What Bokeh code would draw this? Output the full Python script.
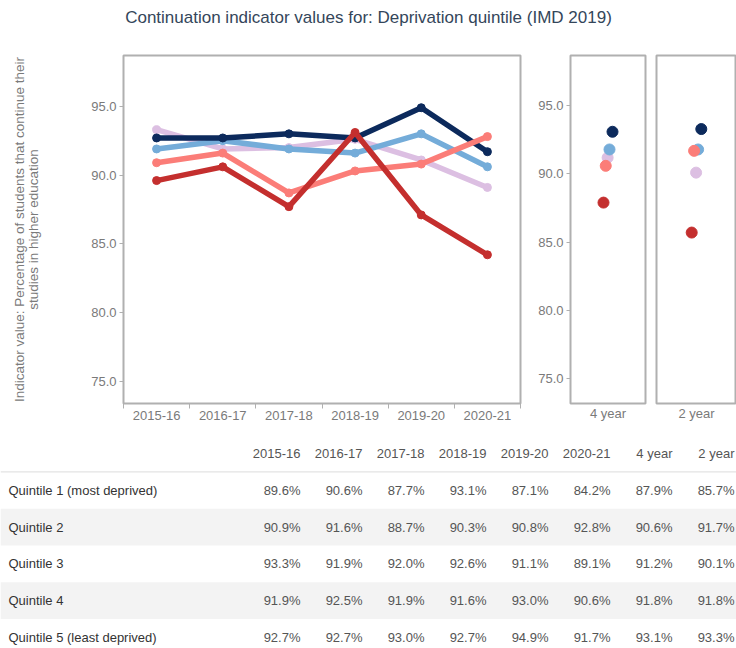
from bokeh.plotting import figure
from bokeh.layouts import column, row
from bokeh.models import (Range1d, FixedTicker, NumeralTickFormatter, FactorRange,
                          ColumnDataSource, Span)
from bokeh.transform import dodge
from bokeh.core.properties import value
from bokeh.embed import file_html
from bokeh.resources import INLINE

# ---------------- data ----------------
years = ["2015-16", "2016-17", "2017-18", "2018-19", "2019-20", "2020-21"]
quintiles = ["Quintile 1 (most deprived)", "Quintile 2", "Quintile 3",
             "Quintile 4", "Quintile 5 (least deprived)"]
q1 = [89.6, 90.6, 87.7, 93.1, 87.1, 84.2]
q2 = [90.9, 91.6, 88.7, 90.3, 90.8, 92.8]
q3 = [93.3, 91.9, 92.0, 92.6, 91.1, 89.1]
q4 = [91.9, 92.5, 91.9, 91.6, 93.0, 90.6]
q5 = [92.7, 92.7, 93.0, 92.7, 94.9, 91.7]
avg_4year = [87.9, 90.6, 91.2, 91.8, 93.1]
avg_2year = [85.7, 91.7, 90.1, 91.8, 93.3]
y_ticks = [75, 80, 85, 90, 95]

series = [q1, q2, q3, q4, q5]
colors = ["#c42f2e", "#fb7d78", "#dcbfe2", "#74acd9", "#0c2a5c"]
draw_order = [2, 3, 4, 1, 0]          # lilac, blue, navy, salmon, red (top)
dodges = [-0.06, -0.03, -0.005, 0.02, 0.06]

FONT = "Liberation Sans"
GREY = "#7a7a7a"
FRAME = "#b0b0b0"
FS = "13px"
PAGE_W, PAGE_H = 736, 648
TITLE_H = 44
ROW_H = 388

# ---------------- title ----------------
tfig = figure(width=PAGE_W, height=TITLE_H, toolbar_location=None, output_backend="svg",
              min_border_top=0, min_border_bottom=0, min_border_left=0, min_border_right=0,
              outline_line_color=None, x_range=(0, 1), y_range=(0, 1))
tfig.axis.visible = False
tfig.grid.visible = False
tfig.title.text = "Continuation indicator values for: Deprivation quintile (IMD 2019)"
tfig.title.align = "center"
tfig.title.text_font = FONT
tfig.title.text_font_size = "17px"
tfig.title.text_font_style = "normal"
tfig.title.text_color = "#34465a"
tfig.scatter([0.5], [0.5], alpha=0)

# ---------------- main trend chart ----------------
xpos = [i + 0.5 for i in range(len(years))]
main = figure(width=530, height=ROW_H, toolbar_location=None, output_backend="svg",
              x_range=Range1d(0, len(years)), y_range=Range1d(73.38, 98.7),
              min_border_left=123, min_border_right=10, min_border_top=11,
              min_border_bottom=29, outline_line_color=FRAME, outline_line_width=2)
main.grid.visible = False
for i in draw_order:
    main.line(xpos, series[i], line_color=colors[i], line_width=5.5, line_join="round")
    main.scatter(xpos, series[i], size=8, fill_color=colors[i], line_color=colors[i])

main.xaxis.ticker = FixedTicker(ticks=xpos, minor_ticks=list(range(len(years) + 1)))
main.xaxis.major_label_overrides = {x: y for x, y in zip(xpos, years)}
main.xaxis.major_tick_out = 0
main.xaxis.major_tick_in = 0
main.xaxis.minor_tick_out = 5
main.xaxis.minor_tick_in = 0
main.xaxis.minor_tick_line_color = FRAME
main.xaxis.axis_line_color = None
main.xaxis.major_label_standoff = 2

main.yaxis.ticker = FixedTicker(ticks=y_ticks)
main.yaxis.formatter = NumeralTickFormatter(format="0.0")
main.yaxis.minor_tick_line_color = None
main.yaxis.major_tick_out = 4
main.yaxis.major_tick_in = 0
main.yaxis.major_tick_line_color = FRAME
main.yaxis.axis_line_color = None
main.yaxis.major_label_standoff = 3
main.yaxis.axis_label = ("Indicator value: Percentage of students that continue their\n"
                         "studies in higher education")
main.yaxis.axis_label_standoff = 47
main.yaxis.axis_label_text_font = FONT
main.yaxis.axis_label_text_font_size = "13.5px"
main.yaxis.axis_label_text_font_style = "normal"
main.yaxis.axis_label_text_color = GREY
main.yaxis.axis_label_text_line_height = 0.95
for ax in (main.xaxis, main.yaxis):
    ax.major_label_text_font = FONT
    ax.major_label_text_font_size = FS
    ax.major_label_text_color = GREY


# ---------------- side panels ----------------
def side_panel(label, values, width, mb_left, mb_right, show_y):
    p = figure(width=width, height=ROW_H, toolbar_location=None, output_backend="svg",
               x_range=FactorRange(label), y_range=Range1d(73.15, 98.7),
               min_border_left=mb_left, min_border_right=mb_right, min_border_top=6,
               min_border_bottom=24, outline_line_color=FRAME, outline_line_width=2)
    p.grid.visible = False
    for i in draw_order:
        src = ColumnDataSource(dict(x=[label], y=[values[i]]))
        p.scatter(x=dodge("x", dodges[i], range=p.x_range), y="y", source=src,
                  size=11, fill_color=colors[i], line_color=colors[i])
    p.xaxis.major_tick_out = 0
    p.xaxis.major_tick_in = 0
    p.xaxis.axis_line_color = None
    p.xaxis.major_label_standoff = 2
    p.xaxis.major_label_text_font = FONT
    p.xaxis.major_label_text_font_size = FS
    p.xaxis.major_label_text_color = GREY
    p.yaxis.ticker = FixedTicker(ticks=y_ticks)
    p.yaxis.formatter = NumeralTickFormatter(format="0.0")
    p.yaxis.minor_tick_line_color = None
    p.yaxis.axis_line_color = None
    if show_y:
        p.yaxis.major_tick_out = 4
        p.yaxis.major_tick_in = 0
        p.yaxis.major_tick_line_color = FRAME
        p.yaxis.major_label_standoff = 3
        p.yaxis.major_label_text_font = FONT
        p.yaxis.major_label_text_font_size = FS
        p.yaxis.major_label_text_color = GREY
    else:
        p.yaxis.visible = False
    return p


p4 = side_panel("4 year", avg_4year, 120, 40, 5, True)
p2 = side_panel("2 year", avg_2year, PAGE_W - 530 - 120, 6, 0, False)

# ---------------- table ----------------
headers = years + ["4 year", "2 year"]
table_rows = []
for i in range(len(quintiles)):
    table_rows.append(series[i] + [avg_4year[i], avg_2year[i]])

TAB_H = PAGE_H - TITLE_H - ROW_H
tab = figure(width=PAGE_W, height=TAB_H, toolbar_location=None, output_backend="svg",
             x_range=Range1d(0, PAGE_W), y_range=Range1d(5.299, -0.571),
             min_border_left=0, min_border_right=0, min_border_top=0, min_border_bottom=0,
             outline_line_color=None)
tab.axis.visible = False
tab.grid.visible = False

shade_rows = [r + 1 for r in range(len(quintiles)) if r % 2 == 1]
tab.hbar(y=shade_rows, height=1.0, left=0, right=PAGE_W, fill_color="#f3f3f3", line_color=None)
tab.add_layout(Span(location=0.5, dimension="width", line_color="#dcdcdc", line_width=1))

col_x = [300 + 62 * j for j in range(len(headers))]
tab.text(x=col_x, y=[0] * len(headers), text=headers, text_align="right",
         text_baseline="middle", text_font=value(FONT), text_font_size=FS,
         text_color="#555555")
lab_y = [r + 1 for r in range(len(quintiles))]
tab.text(x=[8] * len(quintiles), y=lab_y, text=quintiles, text_align="left",
         text_baseline="middle", text_font=value(FONT), text_font_size=FS,
         text_color="#333333")
vx, vy, vt = [], [], []
for r, vals in enumerate(table_rows):
    for j, v in enumerate(vals):
        vx.append(col_x[j])
        vy.append(r + 1)
        vt.append(f"{v:.1f}%")
tab.text(x=vx, y=vy, text=vt, text_align="right", text_baseline="middle",
         text_font=value(FONT), text_font_size=FS, text_color="#555555")

layout = column(tfig, row(main, p4, p2), tab, spacing=0)
open("out.html", "w").write(file_html(layout, INLINE))
